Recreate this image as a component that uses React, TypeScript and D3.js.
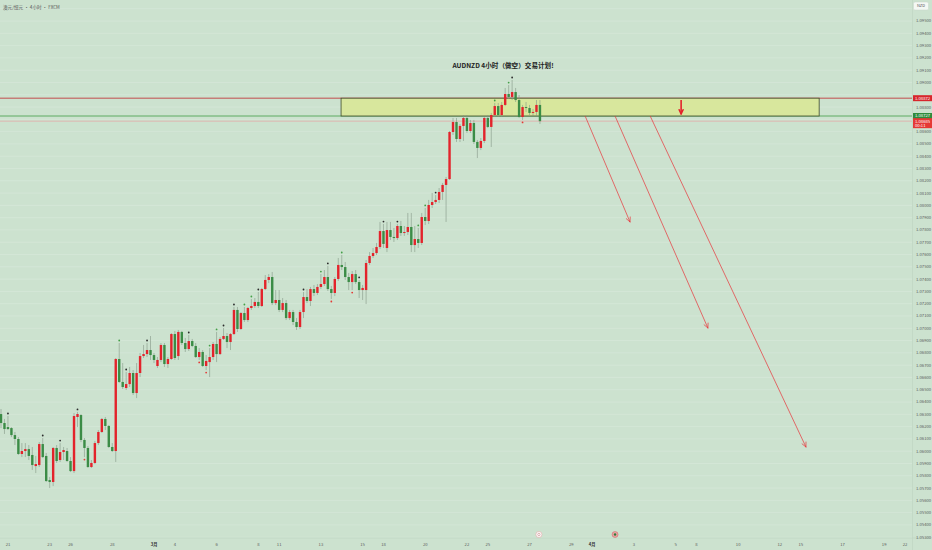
import React, { useEffect, useRef } from 'react'
import * as d3 from 'd3'

// AUDNZD 4H candles (FXCM)
const opens = [
  1.06302, 1.06229, 1.06196, 1.06188, 1.06131, 1.06099, 1.05977, 1.06001, 1.06017, 1.05969,
  1.05879, 1.05887, 1.06058, 1.05961, 1.05765, 1.05749, 1.06026, 1.05928, 1.05993, 1.06001,
  1.0592, 1.05838, 1.06278, 1.06294, 1.06091, 1.06026, 1.05871, 1.05904, 1.06066, 1.06156,
  1.06262, 1.06205, 1.06034, 1.06001, 1.0675, 1.06563, 1.06514, 1.06546, 1.06636, 1.06473,
  1.06636, 1.06774, 1.0679, 1.06823, 1.06782, 1.06693, 1.06742, 1.06864, 1.06709, 1.0675,
  1.06953, 1.06774, 1.0697, 1.0688, 1.06831, 1.06896, 1.06856, 1.06766, 1.06807, 1.06693,
  1.06725, 1.06766, 1.06872, 1.0679, 1.06913, 1.06937, 1.06888, 1.06953, 1.07149, 1.06994,
  1.07124, 1.07067, 1.07165, 1.07181, 1.07214, 1.07181, 1.07319, 1.07393, 1.07417, 1.07205,
  1.0723, 1.07149, 1.07205, 1.07083, 1.07132, 1.07051, 1.0701, 1.07132, 1.07254, 1.07222,
  1.07319, 1.07287, 1.07336, 1.0736, 1.07417, 1.07319, 1.07287, 1.07401, 1.07515, 1.07498,
  1.07417, 1.07376, 1.07441, 1.07376, 1.07311, 1.07311, 1.07531, 1.07588, 1.07612, 1.07661,
  1.07791, 1.07653, 1.07799, 1.07743, 1.07734, 1.07832, 1.07775, 1.07783, 1.07824, 1.07677,
  1.07726, 1.07694, 1.07905, 1.07873, 1.08003, 1.08027, 1.08044, 1.08109, 1.08166, 1.08214,
  1.08597, 1.08678, 1.0854, 1.08646, 1.08711, 1.08605, 1.0867, 1.08516, 1.08467, 1.08524,
  1.08711, 1.08638, 1.08735, 1.08808, 1.08735, 1.08817, 1.08906, 1.08882, 1.08922, 1.08857,
  1.08719, 1.088, 1.08792, 1.08752, 1.0876, 1.08817,
]
const highs = [
  1.06343, 1.06262, 1.06286, 1.06196, 1.06156, 1.06115, 1.06066, 1.06066, 1.0605, 1.06034,
  1.05961, 1.06074, 1.06107, 1.05985, 1.0579, 1.06034, 1.0605, 1.06066, 1.06034, 1.06026,
  1.05952, 1.0631, 1.06319, 1.06302, 1.06107, 1.06042, 1.05928, 1.06083, 1.06172, 1.0627,
  1.06278, 1.06213, 1.06066, 1.06758, 1.0688, 1.06717, 1.06644, 1.06685, 1.0666, 1.06717,
  1.06799, 1.06864, 1.0688, 1.06937, 1.06799, 1.06766, 1.0688, 1.0688, 1.06766, 1.06961,
  1.06978, 1.06986, 1.06978, 1.06921, 1.06945, 1.06913, 1.0688, 1.06839, 1.06823, 1.06782,
  1.06839, 1.06888, 1.0697, 1.06929, 1.07002, 1.06961, 1.06961, 1.07173, 1.07173, 1.07132,
  1.07173, 1.07173, 1.07238, 1.07246, 1.07295, 1.07328, 1.07433, 1.07441, 1.07458, 1.07311,
  1.07311, 1.07246, 1.0723, 1.07149, 1.07149, 1.07083, 1.07149, 1.07295, 1.07319, 1.07336,
  1.07352, 1.0736, 1.07441, 1.07474, 1.07507, 1.07344, 1.07417, 1.07572, 1.07596, 1.07539,
  1.0745, 1.07466, 1.07474, 1.07393, 1.07352, 1.07555, 1.0762, 1.07653, 1.07694, 1.07865,
  1.07848, 1.07865, 1.07865, 1.07816, 1.07848, 1.07873, 1.07832, 1.07938, 1.07938, 1.07832,
  1.07816, 1.07938, 1.07979, 1.08044, 1.08101, 1.08084, 1.08141, 1.08182, 1.08231, 1.08605,
  1.08711, 1.08711, 1.08662, 1.08735, 1.08735, 1.08695, 1.08695, 1.08532, 1.08548, 1.08719,
  1.08735, 1.08752, 1.08833, 1.08833, 1.08841, 1.08955, 1.08979, 1.0902, 1.08955, 1.08898,
  1.08817, 1.08841, 1.08817, 1.08784, 1.08857, 1.08857,
]
const lows = [
  1.06188, 1.0614, 1.06172, 1.06115, 1.0605, 1.05969, 1.05952, 1.05952, 1.05928, 1.05847,
  1.05822, 1.05871, 1.05944, 1.05749, 1.057, 1.05716, 1.05904, 1.05912, 1.05928, 1.05912,
  1.0583, 1.05822, 1.06196, 1.06074, 1.05952, 1.05863, 1.05863, 1.05895, 1.0605, 1.06148,
  1.06172, 1.06026, 1.05993, 1.05912, 1.06555, 1.06506, 1.06498, 1.06522, 1.06457, 1.06432,
  1.06603, 1.06758, 1.06766, 1.06742, 1.06717, 1.06677, 1.06725, 1.06685, 1.06677, 1.06742,
  1.06742, 1.06742, 1.06864, 1.06807, 1.06815, 1.06847, 1.06758, 1.06742, 1.06685, 1.0666,
  1.06603, 1.06742, 1.06725, 1.06782, 1.06904, 1.06839, 1.06823, 1.06945, 1.0697, 1.06986,
  1.07051, 1.07051, 1.07149, 1.07165, 1.07165, 1.07173, 1.07311, 1.07368, 1.07189, 1.07189,
  1.07132, 1.07132, 1.07067, 1.07067, 1.07026, 1.06986, 1.06994, 1.07083, 1.07205, 1.07181,
  1.07262, 1.07271, 1.07319, 1.07344, 1.07303, 1.07238, 1.07262, 1.07385, 1.07474, 1.07393,
  1.07311, 1.07311, 1.0736, 1.07246, 1.0723, 1.07197, 1.07515, 1.07572, 1.07596, 1.07645,
  1.07653, 1.0762, 1.07718, 1.07702, 1.07718, 1.07751, 1.07751, 1.07759, 1.0762, 1.0762,
  1.07653, 1.07677, 1.0784, 1.07848, 1.07979, 1.08011, 1.08019, 1.08044, 1.07865, 1.08206,
  1.08573, 1.08516, 1.08516, 1.08524, 1.08589, 1.08589, 1.08499, 1.08385, 1.0845, 1.08507,
  1.08629, 1.08475, 1.08719, 1.08719, 1.08719, 1.08808, 1.08865, 1.08857, 1.08841, 1.08711,
  1.08695, 1.0876, 1.08735, 1.08727, 1.08727, 1.08662,
]
const closes = [
  1.06229, 1.0618, 1.0618, 1.06131, 1.06099, 1.05977, 1.06001, 1.06017, 1.05961, 1.05887,
  1.05895, 1.06058, 1.05952, 1.05757, 1.05749, 1.06026, 1.0592, 1.05993, 1.06009, 1.0592,
  1.05838, 1.06286, 1.06302, 1.06091, 1.06026, 1.05871, 1.05904, 1.06066, 1.06156, 1.06262,
  1.06205, 1.06034, 1.06001, 1.0675, 1.06563, 1.06522, 1.06546, 1.06636, 1.06473, 1.06636,
  1.06774, 1.0679, 1.06823, 1.06782, 1.06742, 1.06742, 1.06864, 1.06709, 1.0675, 1.06953,
  1.06758, 1.0697, 1.0688, 1.06831, 1.06896, 1.06856, 1.06766, 1.06807, 1.06693, 1.06734,
  1.06766, 1.06872, 1.0679, 1.06913, 1.06937, 1.06888, 1.06953, 1.07149, 1.06994, 1.07124,
  1.07067, 1.07165, 1.07181, 1.07214, 1.07181, 1.07319, 1.07393, 1.07417, 1.07205, 1.0723,
  1.07149, 1.07205, 1.07083, 1.07132, 1.07051, 1.0701, 1.07132, 1.07254, 1.07222, 1.07319,
  1.07287, 1.07336, 1.0736, 1.07417, 1.07319, 1.07287, 1.07401, 1.07515, 1.07498, 1.07417,
  1.07376, 1.07441, 1.07376, 1.07311, 1.07328, 1.07531, 1.07588, 1.07612, 1.07661, 1.07791,
  1.07686, 1.07799, 1.07743, 1.07734, 1.07832, 1.07775, 1.07783, 1.07824, 1.07677, 1.07726,
  1.07694, 1.07905, 1.07873, 1.08003, 1.08027, 1.08044, 1.08109, 1.08166, 1.08214, 1.08597,
  1.08678, 1.0854, 1.08646, 1.08711, 1.08605, 1.0867, 1.08516, 1.08467, 1.08524, 1.08711,
  1.08638, 1.08735, 1.08808, 1.08735, 1.08817, 1.08906, 1.08882, 1.08922, 1.08857, 1.08719,
  1.088, 1.08792, 1.08752, 1.0876, 1.08817, 1.08685,
]

// small pivot dots (bar index)
const dotsAboveDark = [2, 12, 17, 22, 36, 42, 54, 64, 67, 74, 87, 94, 103, 110, 114, 125, 147]
const dotsAboveGreen = [34, 60, 62, 70, 72, 92, 98, 120, 122, 142, 146]
const dotsBelowRed = [24, 57, 59, 95, 101, 150]

// time axis: trading-day labels and their day number from Feb 21
const dayLabels = ['21', '23', '26', '28', '3月', '4', '6', '8', '11', '13', '15', '18', '20', '22',
  '25', '27', '29', '4月', '3', '5', '8', '10', '12', '15', '17', '19', '22']
const dayNumbers = [0, 2, 3, 5, 7, 8, 10, 12, 13, 15, 17, 18, 20, 22, 23, 25, 27, 28, 30, 32, 33,
  35, 37, 38, 40, 42, 43]
const barsPerDay = 6
const firstDayBar = 2

const priceMin = 1.053
const priceMax = 1.095
const priceStep = 0.001

// drawings
const zoneTop = 1.08872
const zoneBottom = 1.08727
const zoneFrom = 97.8
const zoneTo = 235.3
const arrowFromBars = [168, 176.6, 186.7]
const arrowToBars = [180.9, 203.3, 231.5]
const arrowToPrices = [1.07865, 1.07002, 1.06034]
const downArrowBar = 195.6
const eventBars = [154.7, 176.6]

const W = 932
const H = 550
const plotRight = 912
const plotBottom = 538
const font = '"Noto Sans CJK SC", "Noto Sans", sans-serif'
const bg = '#cce2cf'
const upColor = '#e3232b'
const downColor = '#3b8c46'

const App: React.FC = () => {
  const ref = useRef<SVGSVGElement | null>(null)

  useEffect(() => {
    document.body.style.margin = '0'
    if (!ref.current) return
    const svg = d3.select(ref.current)
    svg.selectAll('*').remove()

    const x = d3.scaleLinear().domain([0, 262]).range([1, plotRight])
    const y = d3.scaleLinear().domain([priceMin, priceMax]).range([537.2, 21])
    const last = closes[closes.length - 1]

    svg.append('rect').attr('width', W).attr('height', H).attr('fill', bg)

    // ----------- grid -----------
    const gridTicks = d3.range(0, Math.round((priceMax - priceMin) / priceStep) + 2)
      .map((i) => +(priceMin + i * priceStep).toFixed(3))
    svg
      .append('g')
      .selectAll('line')
      .data(gridTicks)
      .enter()
      .append('line')
      .attr('x1', 0)
      .attr('x2', plotRight)
      .attr('y1', (d) => y(d))
      .attr('y2', (d) => y(d))
      .attr('stroke', '#d9eadb')
      .attr('stroke-width', 0.6)

    svg.append('line').attr('x1', 0).attr('x2', W).attr('y1', plotBottom).attr('y2', plotBottom)
      .attr('stroke', '#bdd3c0').attr('stroke-width', 0.6)
    svg.append('line').attr('x1', plotRight + 0.5).attr('x2', plotRight + 0.5).attr('y1', 0).attr('y2', H)
      .attr('stroke', '#bdd3c0').attr('stroke-width', 0.6)

    // ----------- zone lines + rectangle -----------
    svg.append('line').attr('x1', 0).attr('x2', plotRight).attr('y1', y(zoneTop)).attr('y2', y(zoneTop))
      .attr('stroke', '#c0282d').attr('stroke-width', 0.8)
    svg.append('line').attr('x1', 0).attr('x2', plotRight).attr('y1', y(zoneBottom)).attr('y2', y(zoneBottom))
      .attr('stroke', '#43a047').attr('stroke-width', 0.8)
    svg.append('line').attr('x1', 0).attr('x2', plotRight)
      .attr('y1', y(last)).attr('y2', y(last))
      .attr('stroke', '#e7a3a3').attr('stroke-width', 0.7)

    svg
      .append('rect')
      .attr('x', x(zoneFrom))
      .attr('y', y(zoneTop))
      .attr('width', x(zoneTo) - x(zoneFrom))
      .attr('height', y(zoneBottom) - y(zoneTop))
      .attr('fill', '#d8e79d')
      .attr('stroke', '#3d4a2a')
      .attr('stroke-width', 0.8)

    // ----------- candles -----------
    const bars = opens.map((o, i) => ({ i, o, h: highs[i], l: lows[i], c: closes[i] }))
    const g = svg.append('g')
    g.selectAll('line.wick')
      .data(bars)
      .enter()
      .append('line')
      .attr('x1', (d) => x(d.i))
      .attr('x2', (d) => x(d.i))
      .attr('y1', (d) => y(d.h))
      .attr('y2', (d) => y(d.l))
      .attr('stroke', '#859787')
      .attr('stroke-width', 0.6)
    g.selectAll('rect.body')
      .data(bars)
      .enter()
      .append('rect')
      .attr('x', (d) => x(d.i) - 1.2)
      .attr('width', 2.4)
      .attr('y', (d) => y(Math.max(d.o, d.c)))
      .attr('height', (d) => Math.max(0.8, Math.abs(y(d.o) - y(d.c))))
      .attr('fill', (d) => (d.c >= d.o ? upColor : downColor))

    const dot = (idx: number[], above: boolean, color: string) => {
      svg
        .append('g')
        .selectAll('circle')
        .data(idx)
        .enter()
        .append('circle')
        .attr('cx', (d) => x(d))
        .attr('cy', (d) => (above ? y(highs[d]) - 2.5 : y(lows[d]) + 2.5))
        .attr('r', 0.9)
        .attr('fill', color)
    }
    dot(dotsAboveDark, true, '#2b2b2b')
    dot(dotsAboveGreen, true, '#43a047')
    dot(dotsBelowRed, false, '#e53935')

    // ----------- projection arrows -----------
    const head = (x2: number, y2: number, ang: number, len: number, color: string, w: number) => {
      ;[-0.45, 0.45].forEach((a) => {
        svg
          .append('line')
          .attr('x1', x2)
          .attr('y1', y2)
          .attr('x2', x2 - len * Math.cos(ang + a))
          .attr('y2', y2 - len * Math.sin(ang + a))
          .attr('stroke', color)
          .attr('stroke-width', w)
          .attr('stroke-linecap', 'round')
      })
    }
    arrowFromBars.forEach((b, k) => {
      const x1 = x(b)
      const y1 = y(zoneBottom)
      const x2 = x(arrowToBars[k])
      const y2 = y(arrowToPrices[k])
      svg.append('line').attr('x1', x1).attr('y1', y1).attr('x2', x2).attr('y2', y2)
        .attr('stroke', '#e8343a').attr('stroke-width', 0.7)
      head(x2, y2, Math.atan2(y2 - y1, x2 - x1), 5, '#e8343a', 0.7)
    })

    const dx = x(downArrowBar)
    svg.append('line').attr('x1', dx).attr('x2', dx).attr('y1', y(1.08858)).attr('y2', y(1.08748))
      .attr('stroke', '#e3232b').attr('stroke-width', 1.6)
    head(dx, y(1.08745), Math.PI / 2, 4.5, '#e3232b', 1.6)

    // ----------- price axis -----------
    // TradingView hides scale labels that sit under a price tag
    const tagPrices = [zoneTop, zoneBottom, last]
    const labelTicks = gridTicks.filter(
      (d) => d <= priceMax + 1e-9 && tagPrices.every((p) => Math.abs(y(d) - y(p)) > 5.5),
    )
    svg
      .append('g')
      .selectAll('text')
      .data(labelTicks)
      .enter()
      .append('text')
      .attr('x', 916)
      .attr('y', (d) => y(d))
      .attr('dy', '0.35em')
      .attr('font-family', font)
      .attr('font-size', 4.2)
      .attr('fill', '#5b5b5b')
      .text((d) => d.toFixed(5))

    const tag = (price: number, color: string, lines: string[]) => {
      const h = lines.length === 1 ? 6 : 10
      const top = y(price) - 3
      svg.append('rect').attr('x', 913).attr('y', top).attr('width', 19).attr('height', h)
        .attr('fill', color)
      lines.forEach((t, k) => {
        svg.append('text').attr('x', 915).attr('y', top + 3 + k * 4.3).attr('dy', '0.35em')
          .attr('font-family', font).attr('font-size', 4.2).attr('fill', '#fff').text(t)
      })
    }
    tag(zoneTop, '#d7262c', [zoneTop.toFixed(5)])
    tag(zoneBottom, '#2e8b3d', [zoneBottom.toFixed(5)])
    tag(last, '#e53935', [last.toFixed(5), '00:11'])

    svg.append('rect').attr('x', 913.5).attr('y', 2).attr('width', 15).attr('height', 8).attr('rx', 1.5)
      .attr('fill', '#f4f8f4').attr('stroke', '#c9d6ca').attr('stroke-width', 0.5)
    svg.append('text').attr('x', 921).attr('y', 6).attr('dy', '0.35em').attr('text-anchor', 'middle')
      .attr('font-family', font).attr('font-size', 4).attr('fill', '#555').text('NZD')

    // ----------- time axis -----------
    svg
      .append('g')
      .selectAll('text')
      .data(dayLabels)
      .enter()
      .append('text')
      .attr('x', (_, i) => x(firstDayBar + dayNumbers[i] * barsPerDay))
      .attr('y', 545)
      .attr('dy', '0.35em')
      .attr('text-anchor', 'middle')
      .attr('font-family', font)
      .attr('font-size', 4.2)
      .attr('font-weight', (d) => (d.includes('月') ? 700 : 400))
      .attr('fill', (d) => (d.includes('月') ? '#333' : '#5b5b5b'))
      .text((d) => d)

    // event icons near the time axis
    eventBars.forEach((b, k) => {
      svg.append('circle').attr('cx', x(b)).attr('cy', 534.5).attr('r', 3)
        .attr('fill', k === 0 ? '#fbfbfb' : '#e9a3a3')
        .attr('stroke', k === 0 ? '#e29a9a' : '#d06060').attr('stroke-width', 0.5)
      svg.append('circle').attr('cx', x(b)).attr('cy', 534.5).attr('r', 1.2)
        .attr('fill', k === 0 ? 'none' : '#2f7d3a')
        .attr('stroke', k === 0 ? '#b55' : 'none').attr('stroke-width', 0.4)
    })

    // ----------- texts -----------
    svg.append('text').attr('x', 3).attr('y', 7).attr('dy', '0.35em')
      .attr('font-family', font).attr('font-size', 4.6).attr('fill', '#555')
      .text('澳元/纽元 · 4小时 · FXCM')

    svg.append('text').attr('x', 503).attr('y', 66).attr('dy', '0.35em').attr('text-anchor', 'middle')
      .attr('font-family', font).attr('font-size', 6.6).attr('font-weight', 700).attr('fill', '#222')
      .text('AUDNZD  4小时（做空）交易计划!')
  }, [])

  return <svg ref={ref} width={W} height={H} style={{ display: 'block' }}></svg>
}

export default App
